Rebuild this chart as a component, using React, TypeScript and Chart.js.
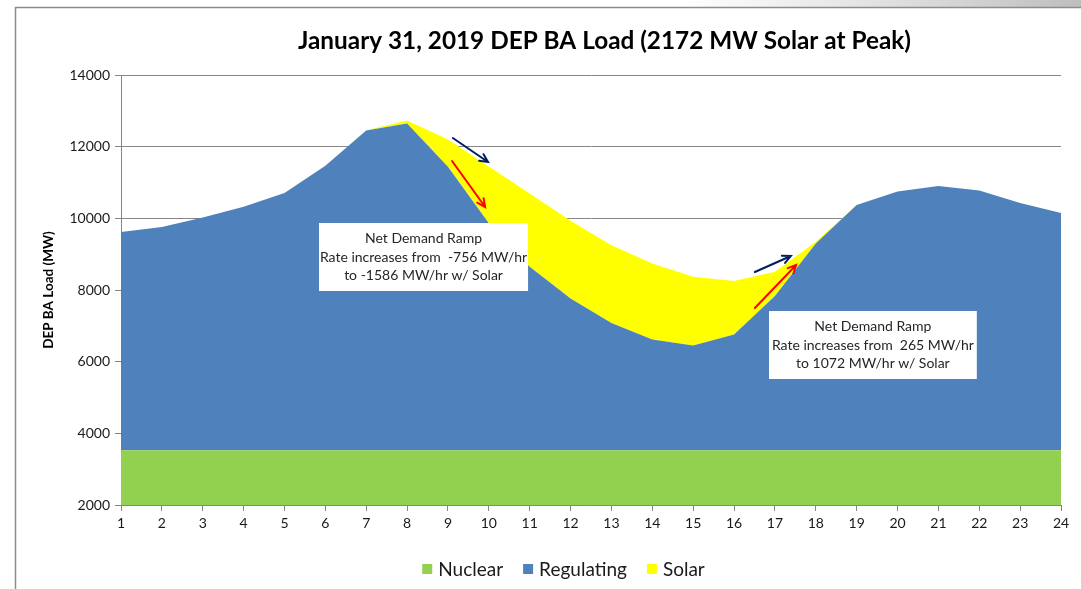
import React, { useEffect, useRef } from "react";
import { Chart, registerables } from "chart.js";

Chart.register(...registerables);

const hours = ["1", "2", "3", "4", "5", "6", "7", "8", "9", "10", "11", "12", "13", "14", "15", "16", "17", "18", "19", "20", "21", "22", "23", "24"];
const nuclearMW = [3530, 3530, 3530, 3530, 3530, 3530, 3530, 3530, 3530, 3530, 3530, 3530, 3530, 3530, 3530, 3530, 3530, 3530, 3530, 3530, 3530, 3530, 3530, 3530];
const regulatingMW = [6090, 6230, 6490, 6790, 7180, 7940, 8920, 9120, 7910, 6330, 5120, 4230, 3550, 3090, 2920, 3230, 4300, 5770, 6840, 7220, 7370, 7250, 6900, 6620];
const solarMW = [0, 0, 0, 0, 0, 0, 10, 80, 760, 1590, 2040, 2170, 2170, 2120, 1920, 1490, 680, 50, 0, 0, 0, 0, 0, 0];

const yMin = 2000;
const yMax = 14000;
const yStep = 2000;

const titleText = "January 31, 2019 DEP BA Load (2172 MW Solar at Peak)";
const yAxisTitle = "DEP BA Load (MW)";
const seriesNames = ["Nuclear", "Regulating", "Solar"];
const seriesColors = ["#92D050", "#4F81BD", "#FFFF00"];

// annotation boxes in data units (hour, MW)
const noteBoxes = [
  { lines: ["Net Demand Ramp", "Rate increases from  -756 MW/hr", "to -1586 MW/hr w/ Solar"], h0: 5.845, h1: 10.96, v0: 9870, v1: 7972 },
  { lines: ["Net Demand Ramp", "Rate increases from  265 MW/hr", "to 1072 MW/hr w/ Solar"], h0: 16.855, h1: 21.94, v0: 7414, v1: 5516 },
];

const rampArrows = [
  { color: "#002060", h0: 9.12, v0: 12242, h1: 9.98, v1: 11572 },
  { color: "#FF0000", h0: 9.1, v0: 11600, h1: 9.91, v1: 10316 },
  { color: "#002060", h0: 16.51, v0: 8502, h1: 17.39, v1: 8949 },
  { color: "#FF0000", h0: 16.51, v0: 7498, h1: 17.52, v1: 8698 },
];

const FONT = "Lato, 'Open Sans', sans-serif";
const GRID = "#868686";

const decorPlugin = {
  id: "decor",
  afterDatasetsDraw(chart: any) {
    const ctx = chart.ctx;
    const xs = chart.scales.x;
    const ys = chart.scales.y;
    const px = (h: number) => xs.getPixelForValue(h - 1);
    const py = (v: number) => ys.getPixelForValue(v);
    ctx.save();
    rampArrows.forEach((a) => {
      const x0 = px(a.h0), y0 = py(a.v0), x1 = px(a.h1), y1 = py(a.v1);
      ctx.strokeStyle = a.color;
      ctx.lineWidth = 2;
      ctx.lineCap = "round";
      ctx.beginPath();
      ctx.moveTo(x0, y0);
      ctx.lineTo(x1, y1);
      const ang = Math.atan2(y1 - y0, x1 - x0);
      const L = 9;
      ctx.moveTo(x1 - L * Math.cos(ang - 0.45), y1 - L * Math.sin(ang - 0.45));
      ctx.lineTo(x1, y1);
      ctx.lineTo(x1 - L * Math.cos(ang + 0.45), y1 - L * Math.sin(ang + 0.45));
      ctx.stroke();
    });
    noteBoxes.forEach((b) => {
      const x0 = px(b.h0), x1 = px(b.h1), y0 = py(b.v0), y1 = py(b.v1);
      ctx.fillStyle = "#FFFFFF";
      ctx.fillRect(x0, y0, x1 - x0, y1 - y0);
      ctx.fillStyle = "#262626";
      ctx.font = `14px ${FONT}`;
      ctx.textAlign = "center";
      ctx.textBaseline = "middle";
      const cx = (x0 + x1) / 2;
      const cy = (y0 + y1) / 2;
      const lh = 18.5;
      b.lines.forEach((t, i) => {
        ctx.fillText(t, cx, cy + (i - (b.lines.length - 1) / 2) * lh);
      });
    });
    ctx.restore();
  },
  afterDraw(chart: any) {
    const ctx = chart.ctx;
    const W = chart.width;
    const H = chart.height;
    ctx.save();
    const g = ctx.createLinearGradient(680, 0, W, 0);
    g.addColorStop(0, "rgba(200,200,200,0)");
    g.addColorStop(1, "rgba(190,190,190,1)");
    ctx.fillStyle = g;
    ctx.fillRect(680, 0, W - 680, 7);
    ctx.strokeStyle = "#8C8C8C";
    ctx.lineWidth = 1.5;
    ctx.beginPath();
    ctx.moveTo(15.5, H);
    ctx.lineTo(15.5, 7.5);
    ctx.lineTo(W, 7.5);
    ctx.stroke();
    ctx.fillStyle = "#000000";
    ctx.textAlign = "center";
    ctx.textBaseline = "middle";
    ctx.font = `bold 24px ${FONT}`;
    const tw = ctx.measureText(titleText).width;
    const fs = Math.min(26, (24 * 613) / tw);
    ctx.font = `bold ${fs.toFixed(2)}px ${FONT}`;
    ctx.fillText(titleText, 604.5, 41);
    ctx.font = `19px ${FONT}`;
    const box = 10, gapBT = 6, gapItems = 20;
    const widths = seriesNames.map((n) => ctx.measureText(n).width);
    const total = widths.reduce((s, w) => s + box + gapBT + w, 0) + gapItems * (seriesNames.length - 1);
    let x = 563.5 - total / 2;
    const ly = 569;
    ctx.textAlign = "left";
    seriesNames.forEach((n, i) => {
      ctx.fillStyle = seriesColors[i];
      ctx.fillRect(x, ly - box / 2, box, box);
      ctx.fillStyle = "#1a1a1a";
      ctx.fillText(n, x + box + gapBT, ly + 1);
      x += box + gapBT + widths[i] + gapItems;
    });
    ctx.restore();
  },
};

export default function App() {
  const ref = useRef<HTMLCanvasElement | null>(null);
  useEffect(() => {
    document.body.style.margin = "0";
    const canvas = ref.current;
    if (!canvas) return;
    const chart = new Chart(canvas, {
      type: "line",
      data: {
        labels: hours,
        datasets: [
          { label: seriesNames[0], data: nuclearMW, backgroundColor: seriesColors[0], borderWidth: 0, pointRadius: 0, fill: "origin", tension: 0 },
          { label: seriesNames[1], data: regulatingMW, backgroundColor: seriesColors[1], borderWidth: 0, pointRadius: 0, fill: "-1", tension: 0 },
          { label: seriesNames[2], data: solarMW, backgroundColor: seriesColors[2], borderWidth: 0, pointRadius: 0, fill: "-1", tension: 0 },
        ],
      },
      options: {
        animation: false,
        responsive: false,
        devicePixelRatio: 1,
        layout: { padding: { left: 37, right: 20, top: 75, bottom: 60 } },
        plugins: {
          legend: { display: false },
          title: { display: false },
          tooltip: { enabled: false },
        },
        scales: {
          x: {
            type: "category",
            offset: false,
            grid: { display: true, drawOnChartArea: false, drawTicks: true, tickLength: 6, color: GRID },
            border: { display: true, color: GRID, width: 1 },
            ticks: { color: "#1a1a1a", font: { family: FONT, size: 14 }, padding: 4, maxRotation: 0, autoSkip: false },
            afterFit: (s: any) => { s.height = 24; },
          },
          y: {
            stacked: true,
            min: yMin,
            max: yMax,
            grid: { color: GRID, drawTicks: true, tickLength: 6, lineWidth: 1 },
            border: { display: true, color: GRID, width: 1 },
            ticks: { stepSize: yStep, color: "#1a1a1a", font: { family: FONT, size: 14 }, padding: 5, callback: (v: any) => String(v) },
            title: { display: true, text: yAxisTitle, color: "#000000", font: { family: FONT, size: 13.5, weight: "bold" }, padding: { top: 4, bottom: 4 } },
            afterFit: (s: any) => { s.width = 84; },
          },
        },
      },
      plugins: [decorPlugin],
    } as any);
    return () => chart.destroy();
  }, []);
  return (
    <div style={{ width: 1081, height: 589, background: "#FFFFFF" }}>
      <canvas ref={ref} width={1081} height={589} />
    </div>
  );
}
